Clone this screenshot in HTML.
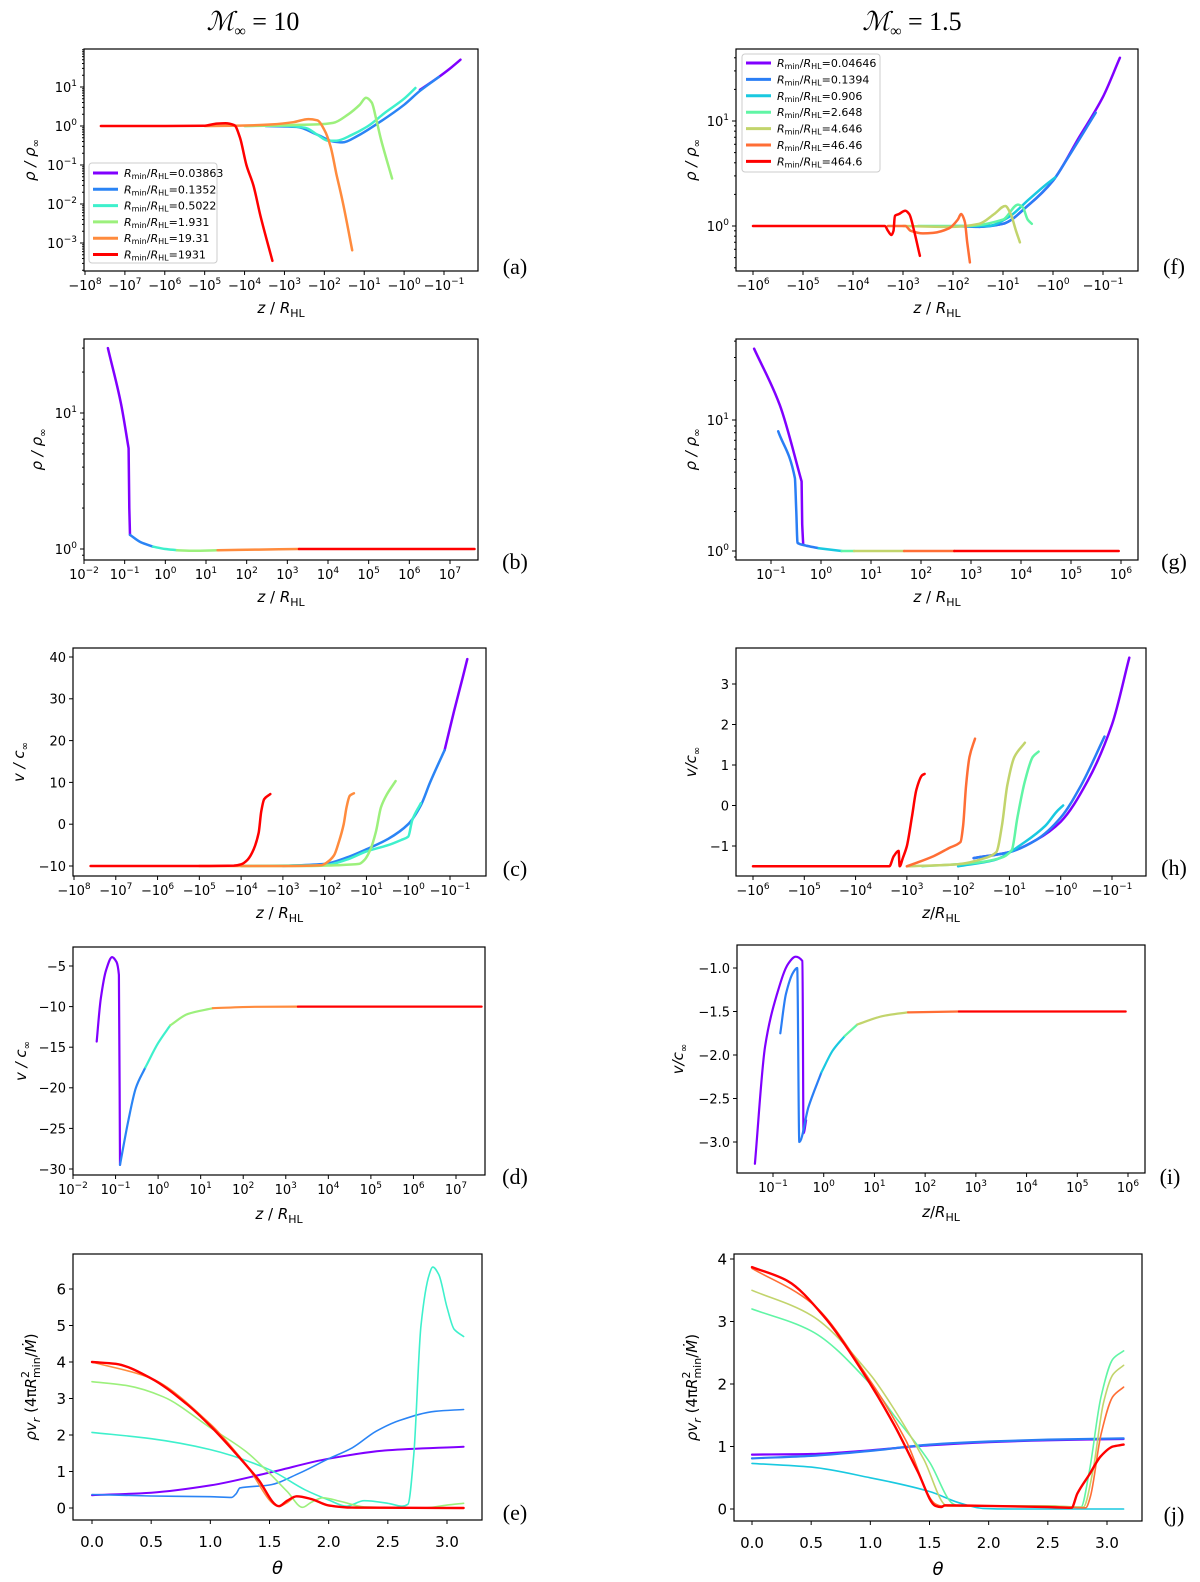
<!DOCTYPE html>
<html><head><meta charset="utf-8"><style>
html,body{margin:0;padding:0;background:#fff;}
svg{display:block;font-family:"DejaVu Sans","Liberation Sans",sans-serif;}
</style></head><body>
<svg id="fig" width="1200" height="1582" viewBox="0 0 1200 1582" xmlns="http://www.w3.org/2000/svg">
<rect x="0" y="0" width="1200" height="1582" fill="#fff"/>
<text x="253" y="30" font-family="Liberation Serif,serif" font-size="26" text-anchor="middle"><tspan font-style="italic">ℳ</tspan><tspan font-size="16" dy="6">∞</tspan><tspan dy="-6"> = 10</tspan></text>
<text x="912" y="30" font-family="Liberation Serif,serif" font-size="26" text-anchor="middle"><tspan font-style="italic">ℳ</tspan><tspan font-size="16" dy="6">∞</tspan><tspan dy="-6"> = 1.5</tspan></text>
</svg>
<script>
// ---------- data: left column (M=10) ----------
const cols6 = ['#8000ff','#2a84f5','#3ef0cc','#9cf07c','#ff8b3d','#ff0000'];
const cols7 = ['#8000ff','#2a7ef5','#19c9e0','#60f5a5','#c2d46c','#ff6e35','#ff0000'];
const legendA = ['0.03863','0.1352','0.5022','1.931','19.31','1931'];
const legendF = ['0.04646','0.1394','0.906','2.648','4.646','46.46','464.6'];

const aPurple = [[-0.4,8.5],[-0.135,18],[-0.07,30],[-0.0386,50]];
const aBlue = [[-3e3,1],[-500,0.95],[-150,0.6],[-60,0.4],[-35,0.38],[-15,0.55],[-5,1.1],[-1,3.5],[-0.4,8],[-0.135,18]];
const aCyan = [[-1e4,1],[-1e3,1.02],[-300,0.9],[-150,0.6],[-80,0.42],[-50,0.42],[-20,0.6],[-8,1.0],[-3,2.2],[-1,5],[-0.52,9.4]];
const aGreen = [[-1e4,1],[-1e3,1.05],[-150,1.1],[-60,1.2],[-25,2],[-13,3.5],[-9,5.3],[-6.5,4],[-5,1.5],[-3.8,0.45],[-2.7,0.13],[-2,0.045]];
const aOrange = [[-1e5,1],[-1e4,1.03],[-2e3,1.1],[-600,1.25],[-250,1.5],[-150,1.4],[-100,0.8],[-70,0.3],[-50,0.06],[-35,0.012],[-20,6.5e-4]];
const aRed = [[-4e7,1],[-1e6,1],[-1e5,1.02],[-5e4,1.15],[-3e4,1.18],[-1.8e4,1.05],[-1.3e4,0.5],[-9e3,0.1],[-6e3,0.03],[-4e3,0.005],[-2e3,3.5e-4]];

const bPurple = [[0.0386,30],[0.08,12],[0.125,5.5],[0.13,2],[0.135,1.27]];
const bBlue = [[0.135,1.27],[0.25,1.12],[0.5,1.04]];
const bCyan = [[0.5,1.04],[1,1.0],[1.93,0.98]];
const bGreen = [[1.93,0.98],[5,0.97],[19.3,0.98]];
const bOrange = [[19.3,0.98],[200,0.99],[1931,1.0]];
const bRed = [[1931,1.0],[4e7,1.0]];

const cPurple = [[-0.135,17.7],[-0.08,27],[-0.05,35],[-0.0386,39.5]];
const cBlue = [[-1e3,-10],[-100,-9.5],[-30,-8],[-10,-6],[-3,-3.5],[-1,0],[-0.5,4.5],[-0.3,10],[-0.135,17.7]];
const cCyan = [[-1e4,-10],[-100,-9.8],[-30,-8.5],[-10,-6.5],[-3,-5],[-1.5,-3.8],[-1,-3],[-0.8,1],[-0.5,5]];
const cGreen = [[-1e4,-10],[-300,-10],[-50,-9.8],[-15,-9.5],[-11,-8.5],[-8,-6],[-6,-2],[-4.5,4],[-3.3,7],[-2,10.3]];
const cOrange = [[-1e5,-10],[-1e3,-10],[-120,-9.8],[-90,-9.2],[-60,-7.5],[-45,-4],[-35,0],[-30,4],[-25,6.8],[-20,7.4]];
const cRed = [[-4e7,-10],[-1e5,-10],[-1.5e4,-9.9],[-1e4,-9.6],[-7e3,-8.5],[-5e3,-6],[-3.8e3,-2],[-3.3e3,3],[-2.8e3,6],[-2e3,7.2]];

const dPurple = [[0.036,-14.3],[0.045,-9],[0.06,-5.5],[0.083,-3.9],[0.105,-4.5],[0.12,-6.1],[0.127,-29.5]];
const dBlue = [[0.127,-29.5],[0.2,-24],[0.3,-20],[0.5,-17.5]];
const dCyan = [[0.5,-17.5],[1,-14.5],[1.93,-12.3]];
const dGreen = [[1.93,-12.3],[5,-10.9],[19.3,-10.2]];
const dOrange = [[19.3,-10.2],[200,-10.02],[1931,-10]];
const dRed = [[1931,-10],[4e7,-10]];

const ePurple = [[0,0.35],[0.5,0.42],[1.0,0.62],[1.5,0.97],[2.0,1.35],[2.5,1.58],[3.14,1.68]];
const eBlue = [[0,0.37],[0.5,0.33],[1.0,0.31],[1.18,0.29],[1.22,0.4],[1.25,0.55],[1.5,0.63],[1.75,0.95],[2.0,1.35],[2.2,1.65],[2.4,2.1],[2.6,2.4],[2.9,2.65],[3.14,2.7]];
const eCyan = [[0,2.07],[0.5,1.9],[1.0,1.6],[1.5,1.05],[1.8,0.5],[2.0,0.22],[2.15,0.05],[2.3,0.2],[2.5,0.13],[2.62,0.05],[2.67,0.1],[2.72,1.5],[2.78,5],[2.85,6.4],[2.88,6.6],[2.93,6.4],[3.0,5.5],[3.06,4.9],[3.14,4.7]];
const eGreen = [[0,3.46],[0.3,3.35],[0.6,3.05],[1.0,2.2],[1.3,1.55],[1.5,0.95],[1.65,0.45],[1.78,0.02],[1.85,0.15],[1.95,0.28],[2.1,0.18],[2.3,0.03],[2.8,0.0],[3.0,0.08],[3.14,0.13]];
const eOrange = [[0,4],[0.5,3.55],[1.0,2.3],[1.3,1.2],[1.58,0.05],[1.65,0.15],[1.73,0.32],[1.85,0.25],[2.0,0.06],[2.3,0],[3.14,0]];
const eRed = [[0,4],[0.2,3.95],[0.5,3.55],[0.8,2.85],[1.0,2.25],[1.2,1.55],[1.4,0.8],[1.58,0.05],[1.65,0.2],[1.73,0.32],[1.85,0.25],[2.0,0.07],[2.2,0.01],[3.14,0]];

// ---------- data: right column (M=1.5) ----------
const fPurple = [[-30,0.98],[-10,1.05],[-3,1.6],[-1,2.7],[-0.3,7],[-0.1,17],[-0.046,40]];
const fBlue = [[-100,1],[-30,0.98],[-10,1.05],[-3,1.6],[-1,2.7],[-0.5,4.5],[-0.14,12]];
const fCyan = [[-100,1],[-20,1],[-8,1.2],[-3,1.8],[-1.5,2.4],[-0.9,2.9]];
const fGreen = [[-500,1],[-50,1],[-10,1.15],[-5,1.6],[-4,1.5],[-3.2,1.15],[-2.65,1.05]];
const fYellow = [[-1e3,1],[-100,0.98],[-30,1.05],[-15,1.3],[-9,1.55],[-7,1.3],[-5.5,0.9],[-4.6,0.7]];
const fOrange = [[-2e3,1],[-900,1],[-700,0.9],[-400,0.85],[-250,0.86],[-120,0.95],[-80,1.15],[-69,1.3],[-58,1.1],[-52,0.7],[-46,0.45]];
const fRed = [[-1e6,1],[-2.3e3,1],[-2e3,0.9],[-1.7e3,0.82],[-1.55e3,0.9],[-1.45e3,1.25],[-1.2e3,1.3],[-900,1.4],[-750,1.3],[-600,0.9],[-460,0.52]];

const gPurple = [[0.046,35],[0.15,13],[0.41,3.4],[0.42,1.6],[0.44,1.13]];
const gBlue = [[0.139,8.2],[0.3,3.6],[0.32,2],[0.34,1.15],[0.5,1.1],[0.9,1.05]];
const gCyan = [[0.9,1.05],[2.6,1.0]];
const gGreen = [[2.6,1.0],[4.6,1.0]];
const gYellow = [[4.6,1.0],[46,1.0]];
const gOrange = [[46,1.0],[464,1.0]];
const gRed = [[464,1],[9e5,1]];

const hPurple = [[-50,-1.3],[-10,-1.15],[-3,-0.85],[-1,-0.4],[-0.3,0.6],[-0.1,2],[-0.046,3.65]];
const hBlue = [[-50,-1.3],[-10,-1.15],[-3,-0.85],[-1,-0.3],[-0.4,0.5],[-0.14,1.7]];
const hCyan = [[-100,-1.5],[-20,-1.35],[-5,-0.9],[-2,-0.5],[-1.2,-0.15],[-0.9,0]];
const hGreen = [[-500,-1.5],[-50,-1.42],[-15,-1.3],[-9,-1.1],[-7,-0.3],[-5,0.6],[-3.5,1.2],[-2.7,1.33]];
const hYellow = [[-1e3,-1.5],[-100,-1.45],[-30,-1.3],[-18,-1.15],[-14,-0.5],[-11,0.5],[-8,1.2],[-5,1.55]];
const hOrange = [[-1e3,-1.5],[-600,-1.4],[-300,-1.25],[-150,-1.05],[-90,-0.9],[-80,-0.5],[-70,0.5],[-60,1.2],[-47,1.65]];
const hRed = [[-1e6,-1.5],[-2.2e3,-1.5],[-1.8e3,-1.25],[-1.45e3,-1.12],[-1.38e3,-1.5],[-1.2e3,-1.3],[-1e3,-1.0],[-800,-0.3],[-650,0.4],[-500,0.75],[-450,0.78]];

const iPurple = [[0.044,-3.25],[0.07,-1.9],[0.12,-1.3],[0.2,-0.95],[0.28,-0.87],[0.38,-0.92],[0.4,-2.9],[0.45,-2.75]];
const iBlue = [[0.139,-1.75],[0.18,-1.3],[0.25,-1.05],[0.3,-1.0],[0.33,-3.0],[0.5,-2.6],[0.9,-2.2]];
const iCyan = [[0.9,-2.2],[1.5,-1.95],[2.6,-1.78]];
const iGreen = [[2.6,-1.78],[4.6,-1.65]];
const iYellow = [[4.6,-1.65],[15,-1.55],[46,-1.51]];
const iOrange = [[46,-1.51],[464,-1.5]];
const iRed = [[464,-1.5],[9e5,-1.5]];

const jPurple = [[0,0.87],[0.5,0.88],[1.0,0.94],[1.5,1.02],[2.0,1.07],[2.5,1.1],[3.14,1.12]];
const jBlue = [[0,0.81],[0.5,0.85],[1.0,0.93],[1.5,1.03],[2.0,1.08],[2.5,1.11],[3.14,1.13]];
const jCyan = [[0,0.73],[0.5,0.67],[1.0,0.5],[1.5,0.28],[1.75,0.1],[1.95,0.01],[2.2,0],[3.14,0]];
const jGreen = [[0,3.2],[0.5,2.85],[1.0,2.0],[1.2,1.5],[1.5,0.75],[1.7,0.08],[1.75,0.05],[2.5,0.05],[2.78,0.03],[2.85,0.6],[2.95,1.8],[3.05,2.4],[3.14,2.53]];
const jYellow = [[0,3.5],[0.5,3.1],[1.0,2.15],[1.2,1.6],[1.45,0.8],[1.65,0.05],[2.5,0.05],[2.8,0.03],[2.88,0.6],[2.97,1.7],[3.05,2.15],[3.14,2.3]];
const jOrange = [[0,3.85],[0.5,3.3],[1.0,2.05],[1.3,1.1],[1.55,0.08],[1.6,0.05],[2.5,0.04],[2.82,0.02],[2.86,0.2],[2.95,1.2],[3.05,1.8],[3.14,1.95]];
const jRed = [[0,3.87],[0.3,3.65],[0.6,3.1],[0.9,2.3],[1.2,1.35],[1.4,0.6],[1.55,0.05],[1.6,0.03],[1.63,0.06],[2.0,0.05],[2.5,0.03],[2.7,0.02],[2.75,0.25],[2.85,0.55],[2.95,0.85],[3.05,1.0],[3.14,1.03]];

// tick values
const negExpA = [8,7,6,5,4,3,2,1,0,-1];
const negExpF = [6,5,4,3,2,1,0,-1];
const posExpB = [-2,-1,0,1,2,3,4,5,6,7];
const posExpG = [-1,0,1,2,3,4,5,6];
const yExpA = [1,0,-1,-2,-3];
const yExpF = [1,0];
const yTicksC = [-10,0,10,20,30,40];
const yTicksH = [-1,0,1,2,3];
const yTicksD = [-5,-10,-15,-20,-25,-30];
const yTicksI = [-1.0,-1.5,-2.0,-2.5,-3.0];
const xTicksE = [0,0.5,1.0,1.5,2.0,2.5,3.0];
const yTicksE = [0,1,2,3,4,5,6];
const yTicksJ = [0,1,2,3,4];

const NS = 'http://www.w3.org/2000/svg';
const svg = document.getElementById('fig');
function tr(type, v){ if(type==='neg') return -Math.log10(-v); if(type==='log') return Math.log10(v); return v; }
function scale(type, ref){
  const t0 = tr(type, ref[0]), t1 = tr(type, ref[2]);
  return v => ref[1] + (tr(type, v) - t0) * (ref[3] - ref[1]) / (t1 - t0);
}
// monotone cubic (Fritsch-Carlson) in pixel space; near-vertical segments drawn straight
function smoothPath(pts){
  const n = pts.length;
  const f = v => v.toFixed(1);
  let d = 'M' + f(pts[0][0]) + ' ' + f(pts[0][1]);
  if(n < 3){ for(let i=1;i<n;i++) d += ' L' + f(pts[i][0]) + ' ' + f(pts[i][1]); return d; }
  const dx = [], sl = [];
  for(let i=0;i<n-1;i++){ dx.push(pts[i+1][0]-pts[i][0]); sl.push(dx[i] > 0.8 ? (pts[i+1][1]-pts[i][1])/dx[i] : NaN); }
  const tg = [];
  for(let i=0;i<n;i++){
    const a = i>0 ? sl[i-1] : NaN, b = i<n-1 ? sl[i] : NaN;
    let t;
    if(isNaN(a) && isNaN(b)) t = 0;
    else if(isNaN(a)) t = b;
    else if(isNaN(b)) t = a;
    else if(a*b <= 0) t = 0;
    else t = 2/(1/a + 1/b);
    tg.push(t);
  }
  for(let i=0;i<n-1;i++){
    const p1 = pts[i], p2 = pts[i+1];
    if(isNaN(sl[i])){ d += ' L' + f(p2[0]) + ' ' + f(p2[1]); continue; }
    const h = dx[i]/3;
    d += ' C' + f(p1[0]+h) + ' ' + f(p1[1]+tg[i]*h) + ' ' + f(p2[0]-h) + ' ' + f(p2[1]-tg[i+1]*h) + ' ' + f(p2[0]) + ' ' + f(p2[1]);
  }
  return d;
}
function mkText(parent, x, y, size, anchor, name){
  const t = document.createElementNS(NS, 'text');
  
  
  t.setAttribute('x', x); t.setAttribute('y', y);
  t.setAttribute('font-size', size); t.setAttribute('text-anchor', anchor);
  parent.appendChild(t); return t;
}
function span(t, txt, opts){
  const s = document.createElementNS(NS, 'tspan');
  if(opts){ for(const k in opts) s.setAttribute(k, opts[k]); }
  s.textContent = txt; t.appendChild(s); return s;
}
function powLabel(t, base, e, size){
  span(t, base);
  span(t, (e < 0 ? '−' : '') + Math.abs(e), {'font-size': Math.round(size*0.7), dy: -Math.round(size*0.45)});
}
function tickLine(g, x1, y1, x2, y2, name){
  const l = document.createElementNS(NS, 'line');
  
  
  l.setAttribute('x1', x1); l.setAttribute('y1', y1); l.setAttribute('x2', x2); l.setAttribute('y2', y2);
  l.setAttribute('stroke', '#000'); l.setAttribute('stroke-width', '1');
  g.appendChild(l);
}

function panel(cfg){
  const g = document.createElementNS(NS, 'g');
  
  
  svg.appendChild(g);
  const [L, T, R, B] = cfg.box;
  const sx = scale(cfg.xType, cfg.xRef), sy = scale(cfg.yType, cfg.yRef);
  const clipId = 'clip-' + cfg.id;
  const cp = document.createElementNS(NS, 'clipPath'); cp.setAttribute('id', clipId);
  const cr = document.createElementNS(NS, 'rect');
  cr.setAttribute('x', L); cr.setAttribute('y', T); cr.setAttribute('width', R-L); cr.setAttribute('height', B-T);
  cp.appendChild(cr); g.appendChild(cp);
  const sg = document.createElementNS(NS, 'g');
  
  
  sg.setAttribute('clip-path', 'url(#' + clipId + ')');
  g.appendChild(sg);
  cfg.series.forEach((s, i) => {
    const p = document.createElementNS(NS, 'path');
    
    
    const pts = s.data.map(pt => [sx(pt[0]), sy(pt[1])]);
    p.setAttribute('d', smoothPath(pts));
    p.setAttribute('fill', 'none');
    p.setAttribute('stroke', s.color);
    p.setAttribute('stroke-width', s.w || cfg.lw);
    p.setAttribute('stroke-linejoin', 'round');
    p.setAttribute('stroke-linecap', 'round');
    sg.appendChild(p);
  });
  const fr = document.createElementNS(NS, 'rect');
  
  
  fr.setAttribute('x', L); fr.setAttribute('y', T); fr.setAttribute('width', R-L); fr.setAttribute('height', B-T);
  fr.setAttribute('fill', 'none'); fr.setAttribute('stroke', '#000'); fr.setAttribute('stroke-width', '1.2');
  g.appendChild(fr);
  const fs = cfg.fs || 13;
  cfg.xTicks.forEach(tk => {
    let v;
    if(cfg.xType === 'neg'){ v = -Math.pow(10, tk); }
    else if(cfg.xType === 'log'){ v = Math.pow(10, tk); }
    else { v = tk; }
    const x = sx(v);
    tickLine(g, x, B, x, B + 4, 'x-tick-' + cfg.id);
    const t = mkText(g, x, B + cfg.tly, fs, 'middle', 'x-tick-label-' + cfg.id);
    if(cfg.xType === 'neg') powLabel(t, '−10', tk, fs);
    else if(cfg.xType === 'log') powLabel(t, '10', tk, fs);
    else t.textContent = tk.toFixed(1);
  });
  cfg.yTicks.forEach(tk => {
    const v = cfg.yType === 'log' ? Math.pow(10, tk) : tk;
    const y = sy(v);
    tickLine(g, L - 4, y, L, y, 'y-tick-' + cfg.id);
    const t = mkText(g, L - 7, y + fs*0.38, fs, 'end', 'y-tick-label-' + cfg.id);
    if(cfg.yType === 'log') powLabel(t, '10', tk, fs);
    else t.textContent = (cfg.yDec ? tk.toFixed(1) : String(tk)).replace('-', '−');
  });
  if(cfg.yType === 'log'){
    for(let dd = -4; dd <= 2; dd++){
      for(let m = 2; m <= 9; m++){
        const y = sy(m * Math.pow(10, dd));
        if(y > T && y < B) tickLine(g, L - 2, y, L, y, 'y-minor-tick-' + cfg.id);
      }
    }
  }
  const xl = mkText(g, (L + R)/2, B + cfg.xly, 15, 'middle', 'x-axis-title-' + cfg.id);
  if(cfg.xlabel === 'theta'){ span(xl, 'θ', {'font-style':'italic', 'font-size':'18'}); }
  else { span(xl, 'z', {'font-style':'italic'}); span(xl, cfg.tight ? '/' : ' / '); span(xl, 'R', {'font-style':'italic'}); span(xl, 'HL', {'font-size':'11', dy:'4'}); }
  const yl = mkText(g, 0, 0, 15, 'middle', 'y-axis-title-' + cfg.id);
  yl.setAttribute('transform', 'translate(' + cfg.ylx + ',' + (T + B)/2 + ') rotate(-90)');
  if(cfg.ylabel === 'rho'){ span(yl, 'ρ / ρ', {'font-style':'italic'}); span(yl, '∞', {'font-size':'10', dy:'4'}); }
  else if(cfg.ylabel === 'v'){ span(yl, cfg.tight ? 'v/c' : 'v / c', {'font-style':'italic'}); span(yl, '∞', {'font-size':'10', dy:'4'}); }
  else {
    span(yl, 'ρv', {'font-style':'italic'}); span(yl, 'r', {'font-style':'italic','font-size':'11', dy:'4'});
    span(yl, ' (4π', {dy:'-4'}); span(yl, 'R', {'font-style':'italic'});
    span(yl, '2', {'font-size':'11', dy:'-7'}); span(yl, 'min', {'font-size':'11', dx:'-7', dy:'11'});
    span(yl, '/', {dy:'-4'}); span(yl, 'Ṁ', {'font-style':'italic'}); span(yl, ')');
  }
  const pl = mkText(g, cfg.lx, cfg.ly, 22, 'middle', 'panel-letter-' + cfg.id);
  pl.setAttribute('font-family', 'Liberation Serif, serif');
  pl.textContent = '(' + cfg.id + ')';
  if(cfg.legend){
    const lg = cfg.legend;
    const lgG = document.createElementNS(NS, 'g');
    
    
    g.appendChild(lgG);
    const bx = document.createElementNS(NS, 'rect');
    
    
    bx.setAttribute('x', lg.x); bx.setAttribute('y', lg.y); bx.setAttribute('width', lg.w); bx.setAttribute('height', lg.h);
    bx.setAttribute('rx', 3); bx.setAttribute('fill', '#fff'); bx.setAttribute('fill-opacity', '0.85');
    bx.setAttribute('stroke', '#ccc'); bx.setAttribute('stroke-width', '1');
    lgG.appendChild(bx);
    lg.labels.forEach((lab, i) => {
      const yy = lg.y0 + i * lg.dy;
      tickLine(lgG, lg.x + 4, yy, lg.x + 29, yy, 'legend-swatch-' + cfg.id);
      lgG.lastChild.setAttribute('stroke', cfg.series[i].color);
      lgG.lastChild.setAttribute('stroke-width', '3');
      const t = mkText(lgG, lg.x + 35, yy + 4, 11, 'start', 'legend-entry-' + cfg.id);
      span(t, 'R', {'font-style':'italic'}); span(t, 'min', {'font-size':'8', dy:'2'});
      span(t, '/', {dy:'-2'}); span(t, 'R', {'font-style':'italic'}); span(t, 'HL', {'font-size':'8', dy:'2'});
      span(t, '=' + lab, {dy:'-2'});
    });
  }
}

function ser(arrs, colors, names){ return arrs.map((a, i) => ({data: a, color: colors[i], name: names[i]})); }
const n6 = ['purple','blue','cyan','green','orange','red'];
const n7 = ['purple','blue','cyan','green','yellow','orange','red'];

panel({id:'a', box:[84,49,478,271], xType:'neg', xRef:[-1e8,85,-0.1,444], yType:'log', yRef:[10,87,1e-3,243],
  xTicks:negExpA, yTicks:yExpA, tly:19, xly:42, ylx:35, lx:515, ly:274, lw:2.5, ylabel:'rho',
  series:ser([aPurple,aBlue,aCyan,aGreen,aOrange,aRed], cols6, n6),
  legend:{x:89, y:163, w:128, h:100, y0:173, dy:16.3, labels:legendA}});
panel({id:'b', box:[84,339,478,560], xType:'log', xRef:[0.01,84,1e7,450], yType:'log', yRef:[10,413,1,549],
  xTicks:posExpB, yTicks:yExpF, tly:19, xly:42, ylx:42, lx:515, ly:569, lw:2.5, ylabel:'rho',
  series:ser([bPurple,bBlue,bCyan,bGreen,bOrange,bRed], cols6, n6)});
panel({id:'c', box:[73,648,486,876], xType:'neg', xRef:[-1e8,74,-0.1,450], yType:'lin', yRef:[40,657,-10,866],
  xTicks:negExpA, yTicks:yTicksC, tly:19, xly:42, ylx:24, lx:515, ly:876, lw:2.5, ylabel:'v',
  series:ser([cPurple,cBlue,cCyan,cGreen,cOrange,cRed], cols6, n6)});
panel({id:'d', box:[73,947,485,1175], xType:'log', xRef:[0.01,73,1e7,456], yType:'lin', yRef:[-5,966,-30,1169],
  xTicks:posExpB, yTicks:yTicksD, tly:19, xly:44, ylx:26, lx:515, ly:1184, lw:2.2, ylabel:'v',
  series:ser([dPurple,dBlue,dCyan,dGreen,dOrange,dRed], cols6, n6)});
panel({id:'e', box:[73,1254,482,1520], xType:'lin', xRef:[0,92,3,447], yType:'lin', yRef:[6,1289,0,1508],
  xTicks:xTicksE, yTicks:yTicksE, tly:27, xly:54, ylx:36, lx:515, ly:1520, lw:1.6, fs:15, ylabel:'flux', xlabel:'theta',
  series:ser([ePurple,eBlue,eCyan,eGreen,eOrange,eRed], cols6, n6).map((s,i)=>{ if(i===5) s.w=2.4; if(i===0) s.w=2; return s; })});

panel({id:'f', box:[736,49,1138,271], xType:'neg', xRef:[-1e6,753,-0.1,1103], yType:'log', yRef:[10,121,1,226],
  xTicks:negExpF, yTicks:yExpF, tly:19, xly:42, ylx:696, lx:1174, ly:274, lw:2.5, ylabel:'rho',
  series:ser([fPurple,fBlue,fCyan,fGreen,fYellow,fOrange,fRed], cols7, n7),
  legend:{x:742, y:54, w:138, h:118, y0:63, dy:16.4, labels:legendF}});
panel({id:'g', box:[736,339,1138,560], xType:'log', xRef:[0.1,771,1e6,1121], yType:'log', yRef:[10,420,1,551],
  xTicks:posExpG, yTicks:yExpF, tly:19, xly:42, ylx:696, lx:1174, ly:569, lw:2.5, ylabel:'rho',
  series:ser([gPurple,gBlue,gCyan,gGreen,gYellow,gOrange,gRed], cols7, n7)});
panel({id:'h', box:[736,648,1146,876], xType:'neg', xRef:[-1e6,753,-0.1,1112], yType:'lin', yRef:[3,684,-1,846],
  xTicks:negExpF, yTicks:yTicksH, tly:19, xly:42, ylx:696, lx:1174, ly:875, lw:2.5, ylabel:'v', tight:true,
  series:ser([hPurple,hBlue,hCyan,hGreen,hYellow,hOrange,hRed], cols7, n7)});
panel({id:'i', box:[737,945,1145,1173], xType:'log', xRef:[0.1,773,1e6,1128], yType:'lin', yRef:[-1,968,-3,1142],
  xTicks:posExpG, yTicks:yTicksI, tly:19, xly:44, ylx:683, lx:1170, ly:1184, lw:2.2, ylabel:'v', yDec:true, tight:true,
  series:ser([iPurple,iBlue,iCyan,iGreen,iYellow,iOrange,iRed], cols7, n7)});
panel({id:'j', box:[734,1254,1142,1521], xType:'lin', xRef:[0,752,3,1107], yType:'lin', yRef:[4,1259,0,1509],
  xTicks:xTicksE, yTicks:yTicksJ, tly:27, xly:54, ylx:697, lx:1174, ly:1522, lw:1.6, fs:15, ylabel:'flux', xlabel:'theta',
  series:ser([jPurple,jBlue,jCyan,jGreen,jYellow,jOrange,jRed], cols7, n7).map((s,i)=>{ if(i===6) s.w=2.4; if(i<2) s.w=2.2; return s; })});
</script>
</body></html>
